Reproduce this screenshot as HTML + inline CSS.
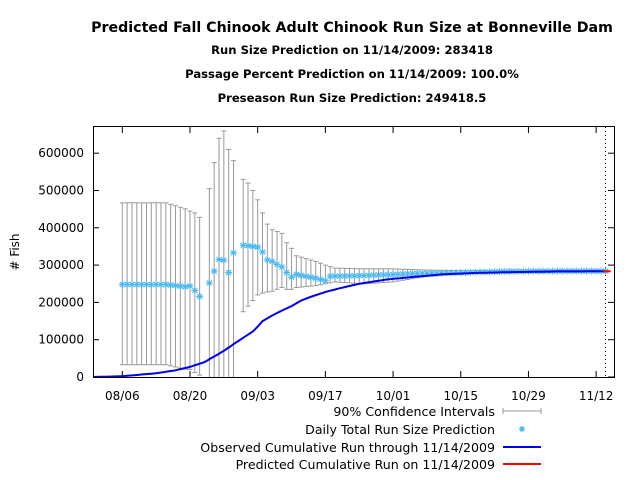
<!DOCTYPE html>
<html><head><meta charset="utf-8"><style>
body{margin:0;background:#fff;}
svg{display:block;font-family:"DejaVu Sans","Liberation Sans",sans-serif;}
</style></head><body>
<svg id="s" width="640" height="480" xmlns="http://www.w3.org/2000/svg">
<rect width="640" height="480" fill="#fff"/>
<g font-weight="bold" text-anchor="middle" fill="#000">
<text x="352" y="32" font-size="14.2">Predicted Fall Chinook Adult Chinook Run Size at Bonneville Dam</text>
<text x="352" y="54" font-size="11.6">Run Size Prediction on 11/14/2009: 283418</text>
<text x="352" y="78" font-size="11.6">Passage Percent Prediction on 11/14/2009: 100.0%</text>
<text x="352" y="102" font-size="11.6">Preseason Run Size Prediction: 249418.5</text>
</g>
<text transform="translate(19,252) rotate(-90)" font-size="12" text-anchor="middle"># Fish</text>
<g id="g"></g>
<rect x="93.5" y="126.5" width="521" height="251" fill="none" stroke="#000" stroke-width="1"/>
<g font-size="12.6" text-anchor="end">
<text x="495" y="416">90% Confidence Intervals</text>
<text x="495" y="434">Daily Total Run Size Prediction</text>
<text x="495" y="452">Observed Cumulative Run through 11/14/2009</text>
<text x="495" y="469">Predicted Cumulative Run on 11/14/2009</text>
</g>
<g stroke="#999"><line x1="503" y1="411" x2="541" y2="411"/><line x1="503" y1="408" x2="503" y2="414"/><line x1="541" y1="408" x2="541" y2="414"/></g>
<g stroke="#4db8f0" stroke-width="1.2"><line x1="519" y1="429" x2="525" y2="429"/><line x1="522" y1="426" x2="522" y2="432"/><line x1="519.8" y1="426.8" x2="524.2" y2="431.2"/><line x1="519.8" y1="431.2" x2="524.2" y2="426.8"/></g>
<line x1="503" y1="447" x2="541" y2="447" stroke="#0000ee" stroke-width="2"/>
<line x1="503" y1="464" x2="541" y2="464" stroke="#ff0000" stroke-width="2"/>
</svg>
<script>
(function(){
var g=document.getElementById('g'),h='';
function X(d){return 122.3+4.835*d;}
function Y(v){return 377-v*0.000373;}
for(var i=0;i<=6;i++){var y=Y(i*100000);h+='<line x1="93" y1="'+y+'" x2="99" y2="'+y+'" stroke="#000"/><line x1="608" y1="'+y+'" x2="614" y2="'+y+'" stroke="#000"/>';
h+='<text x="84" y="'+(y+4)+'" font-size="12" text-anchor="end">'+(i*100000)+'</text>';}
var lb=['08/06','08/20','09/03','09/17','10/01','10/15','10/29','11/12'];
for(i=0;i<8;i++){var x=X(i*14);h+='<line x1="'+x+'" y1="377" x2="'+x+'" y2="371" stroke="#000"/><line x1="'+x+'" y1="127" x2="'+x+'" y2="133" stroke="#000"/><text x="'+x+'" y="400" font-size="12" text-anchor="middle">'+lb[i]+'</text>';}
h+='<line x1="605.5" y1="127" x2="605.5" y2="377" stroke="#000" stroke-dasharray="1,3"/>';
function interp(k,d){for(var j=0;j<k.length-1;j++){if(d>=k[j][0]&&d<=k[j+1][0]){var t=(d-k[j][0])/(k[j+1][0]-k[j][0]);return k[j][1]+t*(k[j+1][1]-k[j][1]);}}return k[k.length-1][1];}
var pts={},tp={},bt={};
for(var d=0;d<=13;d++){pts[d]=248000-(d>9?(d-9)*1500:0);tp[d]=467000-(d>9?(d-9)*4000:0);bt[d]=33000-(d>9?(d-9)*3000:0);}
pts[14]=244000;tp[14]=445000;bt[14]=20000;
pts[15]=232000;tp[15]=440000;bt[15]=12000;
pts[16]=216000;tp[16]=428000;bt[16]=5000;
var sp=[[18,252000,505000,0],[19,284000,575000,0],[20,315000,640000,0],[21,313000,660000,0],[22,280000,610000,0],[23,333000,580000,0],
[25,353000,530000,175000],[26,352000,520000,190000],[27,350000,500000,205000],[28,348000,475000,220000],[29,335000,440000,225000],[30,314000,410000,228000],[31,310000,395000,230000],[32,302000,390000,235000],[33,295000,385000,240000],[34,280000,360000,235000],[35,268000,345000,235000]];
sp.forEach(function(a){pts[a[0]]=a[1];tp[a[0]]=a[2];bt[a[0]]=a[3];});
var pk=[[36,275000],[40,265000],[42,258000],[43,270000],[50,272000],[60,277000],[70,280000],[80,283000],[90,284000],[100,284000]];
var tk=[[36,325000],[40,310000],[42,300000],[44,292000],[50,290000],[56,290000],[62,287000],[70,285000],[80,286000],[100,286000]];
var bk=[[36,240000],[40,245000],[42,250000],[44,255000],[50,250000],[56,255000],[62,268000],[70,277000],[80,282000],[100,283000]];
for(d=36;d<=100;d++){pts[d]=interp(pk,d);tp[d]=interp(tk,d);bt[d]=interp(bk,d);}
for(var k in tp){var x=X(+k),t=Y(tp[k]),b=Math.min(377,Y(bt[k]));
h+='<g stroke="#999" stroke-width="1"><line x1="'+x+'" y1="'+t+'" x2="'+x+'" y2="'+b+'"/><line x1="'+(x-2.5)+'" y1="'+t+'" x2="'+(x+2.5)+'" y2="'+t+'"/>'+(b<377?'<line x1="'+(x-2.5)+'" y1="'+b+'" x2="'+(x+2.5)+'" y2="'+b+'"/>':'')+'</g>';}
for(k in pts){var x=X(+k),y=Y(pts[k]);
h+='<g stroke="#4db8f0" stroke-width="1.1"><line x1="'+(x-3.5)+'" y1="'+y+'" x2="'+(x+3.5)+'" y2="'+y+'"/><line x1="'+x+'" y1="'+(y-3.5)+'" x2="'+x+'" y2="'+(y+3.5)+'"/><line x1="'+(x-2.5)+'" y1="'+(y-2.5)+'" x2="'+(x+2.5)+'" y2="'+(y+2.5)+'"/><line x1="'+(x-2.5)+'" y1="'+(y+2.5)+'" x2="'+(x+2.5)+'" y2="'+(y-2.5)+'"/></g>';}
var ck=[[-6,0],[0,2000],[7,10000],[11,18000],[14,27000],[17,40000],[19,55000],[21,70000],[23,88000],[25,105000],[27,122000],[28,135000],[29,150000],[31,165000],[33,178000],[35,190000],[37,205000],[39,215000],[42,228000],[45,238000],[49,250000],[55,262000],[60,268000],[66,275000],[73,279000],[80,281000],[90,283000],[100,283418]];
var p='';for(d=-6;d<=100;d+=0.5){p+=(p?'L':'M')+X(d).toFixed(1)+','+Y(interp(ck,d)).toFixed(1);}
h+='<path d="'+p+'" fill="none" stroke="#0000ee" stroke-width="2"/>';
h+='<line x1="'+X(99.5)+'" y1="'+Y(283418)+'" x2="'+X(101)+'" y2="'+Y(283418)+'" stroke="#ff0000" stroke-width="2"/>';
g.innerHTML=h;
})();
</script>
</body></html>
